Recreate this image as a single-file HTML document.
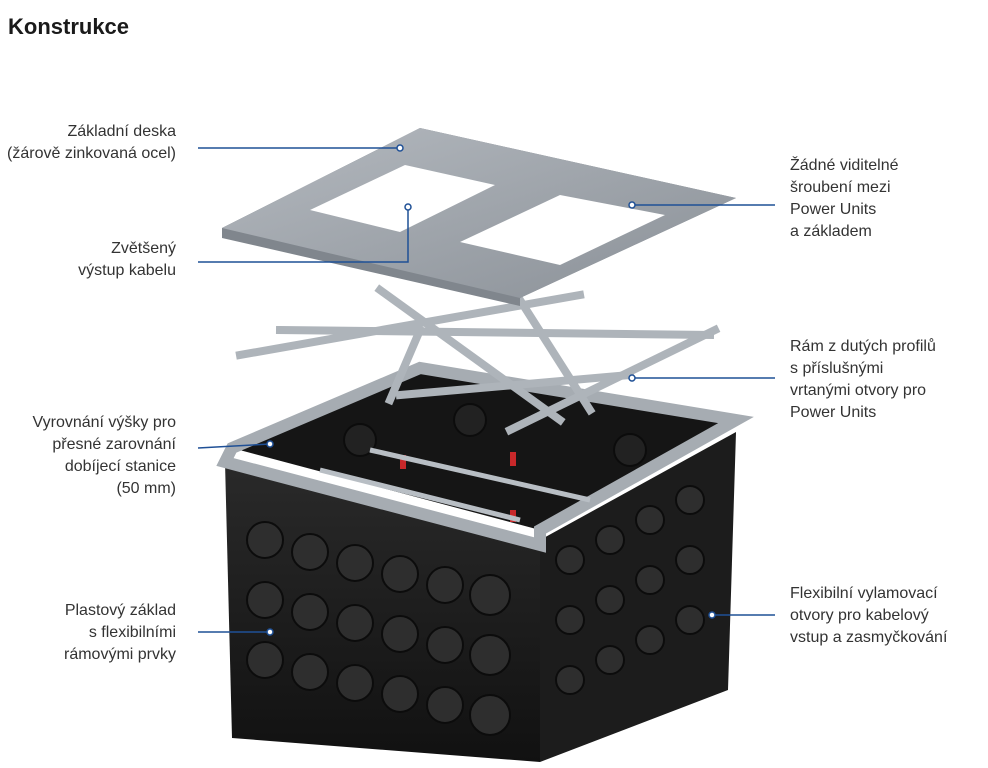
<!DOCTYPE html>
<html><head><meta charset="utf-8"><style>
html,body{margin:0;padding:0;background:#fff;}
body{width:988px;height:768px;position:relative;overflow:hidden;font-family:"Liberation Sans",sans-serif;color:#222;}
h1{position:absolute;left:8px;top:14px;margin:0;font-size:22px;font-weight:bold;color:#1a1a1a;}
.l{position:absolute;font-size:16px;line-height:22px;color:#333;}
.r{text-align:right;right:812px;}
.rt{left:790px;}
svg{position:absolute;left:0;top:0;}
</style></head><body>
<svg width="988" height="768">
<defs>
<linearGradient id="pl" x1="0" y1="0" x2="1" y2="1"><stop offset="0" stop-color="#b4b9bf"/><stop offset="1" stop-color="#8a9097"/></linearGradient>
<linearGradient id="bx" x1="0" y1="0" x2="0" y2="1"><stop offset="0" stop-color="#2a2a2a"/><stop offset="1" stop-color="#111"/></linearGradient>
</defs>
<polygon points="225,462 540,540 540,762 232,738" fill="url(#bx)"/>
<polygon points="540,540 736,432 728,690 540,762" fill="#1c1c1c"/>
<polygon points="232,448 420,368 736,420 540,530" fill="#151515"/>
<polygon points="232,448 420,368 736,420 540,530 540,545 225,462" fill="none" stroke="#a6acb2" stroke-width="12"/>
<g fill="#2e2e2e" stroke="#0c0c0c" stroke-width="2">
<circle cx="265" cy="540" r="18"/><circle cx="310" cy="552" r="18"/><circle cx="355" cy="563" r="18"/><circle cx="400" cy="574" r="18"/><circle cx="445" cy="585" r="18"/><circle cx="490" cy="595" r="20"/>
<circle cx="265" cy="600" r="18"/><circle cx="310" cy="612" r="18"/><circle cx="355" cy="623" r="18"/><circle cx="400" cy="634" r="18"/><circle cx="445" cy="645" r="18"/><circle cx="490" cy="655" r="20"/>
<circle cx="265" cy="660" r="18"/><circle cx="310" cy="672" r="18"/><circle cx="355" cy="683" r="18"/><circle cx="400" cy="694" r="18"/><circle cx="445" cy="705" r="18"/><circle cx="490" cy="715" r="20"/>
<circle cx="570" cy="560" r="14"/><circle cx="610" cy="540" r="14"/><circle cx="650" cy="520" r="14"/><circle cx="690" cy="500" r="14"/>
<circle cx="570" cy="620" r="14"/><circle cx="610" cy="600" r="14"/><circle cx="650" cy="580" r="14"/><circle cx="690" cy="560" r="14"/>
<circle cx="570" cy="680" r="14"/><circle cx="610" cy="660" r="14"/><circle cx="650" cy="640" r="14"/><circle cx="690" cy="620" r="14"/>
<circle cx="360" cy="440" r="16" fill="#222"/><circle cx="470" cy="420" r="16" fill="#222"/><circle cx="630" cy="450" r="16" fill="#222"/>
</g>
<g fill="#c8282a"><rect x="510" y="452" width="6" height="14"/><rect x="400" y="455" width="6" height="14"/><rect x="510" y="510" width="6" height="12"/></g>
<g stroke="#b8bec4" stroke-width="5" fill="none">
<line x1="320" y1="470" x2="520" y2="520"/><line x1="370" y1="450" x2="590" y2="500"/>
</g>
<g stroke="#aeb4ba" stroke-width="8" fill="none" stroke-linecap="square">
<line x1="240" y1="355" x2="580" y2="295"/>
<line x1="280" y1="330" x2="710" y2="335"/>
<line x1="380" y1="290" x2="560" y2="420"/>
<line x1="420" y1="330" x2="390" y2="400"/>
<line x1="520" y1="300" x2="590" y2="410"/>
<line x1="510" y1="430" x2="715" y2="330"/>
<line x1="400" y1="395" x2="630" y2="375"/>
</g>
<polygon points="222,228 420,128 736,198 520,298 520,306 222,238" fill="#80868d"/>
<polygon points="222,228 420,128 736,198 520,298" fill="url(#pl)"/>
<polygon points="310,210 405,165 495,185 400,232" fill="#fff"/>
<polygon points="460,242 560,195 665,215 560,265" fill="#fff"/>
<g stroke="#1f5096" stroke-width="1.5" fill="none">
<line x1="198" y1="148" x2="400" y2="148"/>
<polyline points="198,262 408,262 408,207"/>
<line x1="198" y1="448" x2="270" y2="444"/>
<line x1="198" y1="632" x2="270" y2="632"/>
<line x1="632" y1="205" x2="775" y2="205"/>
<line x1="632" y1="378" x2="775" y2="378"/>
<line x1="712" y1="615" x2="775" y2="615"/>
</g>
<g fill="#fff" stroke="#1f5096" stroke-width="1.5">
<circle cx="400" cy="148" r="3"/><circle cx="408" cy="207" r="3"/><circle cx="270" cy="444" r="3"/><circle cx="270" cy="632" r="3"/><circle cx="632" cy="205" r="3"/><circle cx="632" cy="378" r="3"/><circle cx="712" cy="615" r="3"/>
</g>
</svg>
<h1>Konstrukce</h1>
<div class="l r" style="top:121px">Základní deska<br>(žárově zinkovaná ocel)</div>
<div class="l r" style="top:238px">Zvětšený<br>výstup kabelu</div>
<div class="l r" style="top:412px">Vyrovnání výšky pro<br>přesné zarovnání<br>dobíjecí stanice<br>(50 mm)</div>
<div class="l r" style="top:600px">Plastový základ<br>s flexibilními<br>rámovými prvky</div>
<div class="l rt" style="top:155px">Žádné viditelné<br>šroubení mezi<br>Power Units<br>a základem</div>
<div class="l rt" style="top:336px">Rám z dutých profilů<br>s příslušnými<br>vrtanými otvory pro<br>Power Units</div>
<div class="l rt" style="top:583px">Flexibilní vylamovací<br>otvory pro kabelový<br>vstup a zasmyčkování</div>
</body></html>
